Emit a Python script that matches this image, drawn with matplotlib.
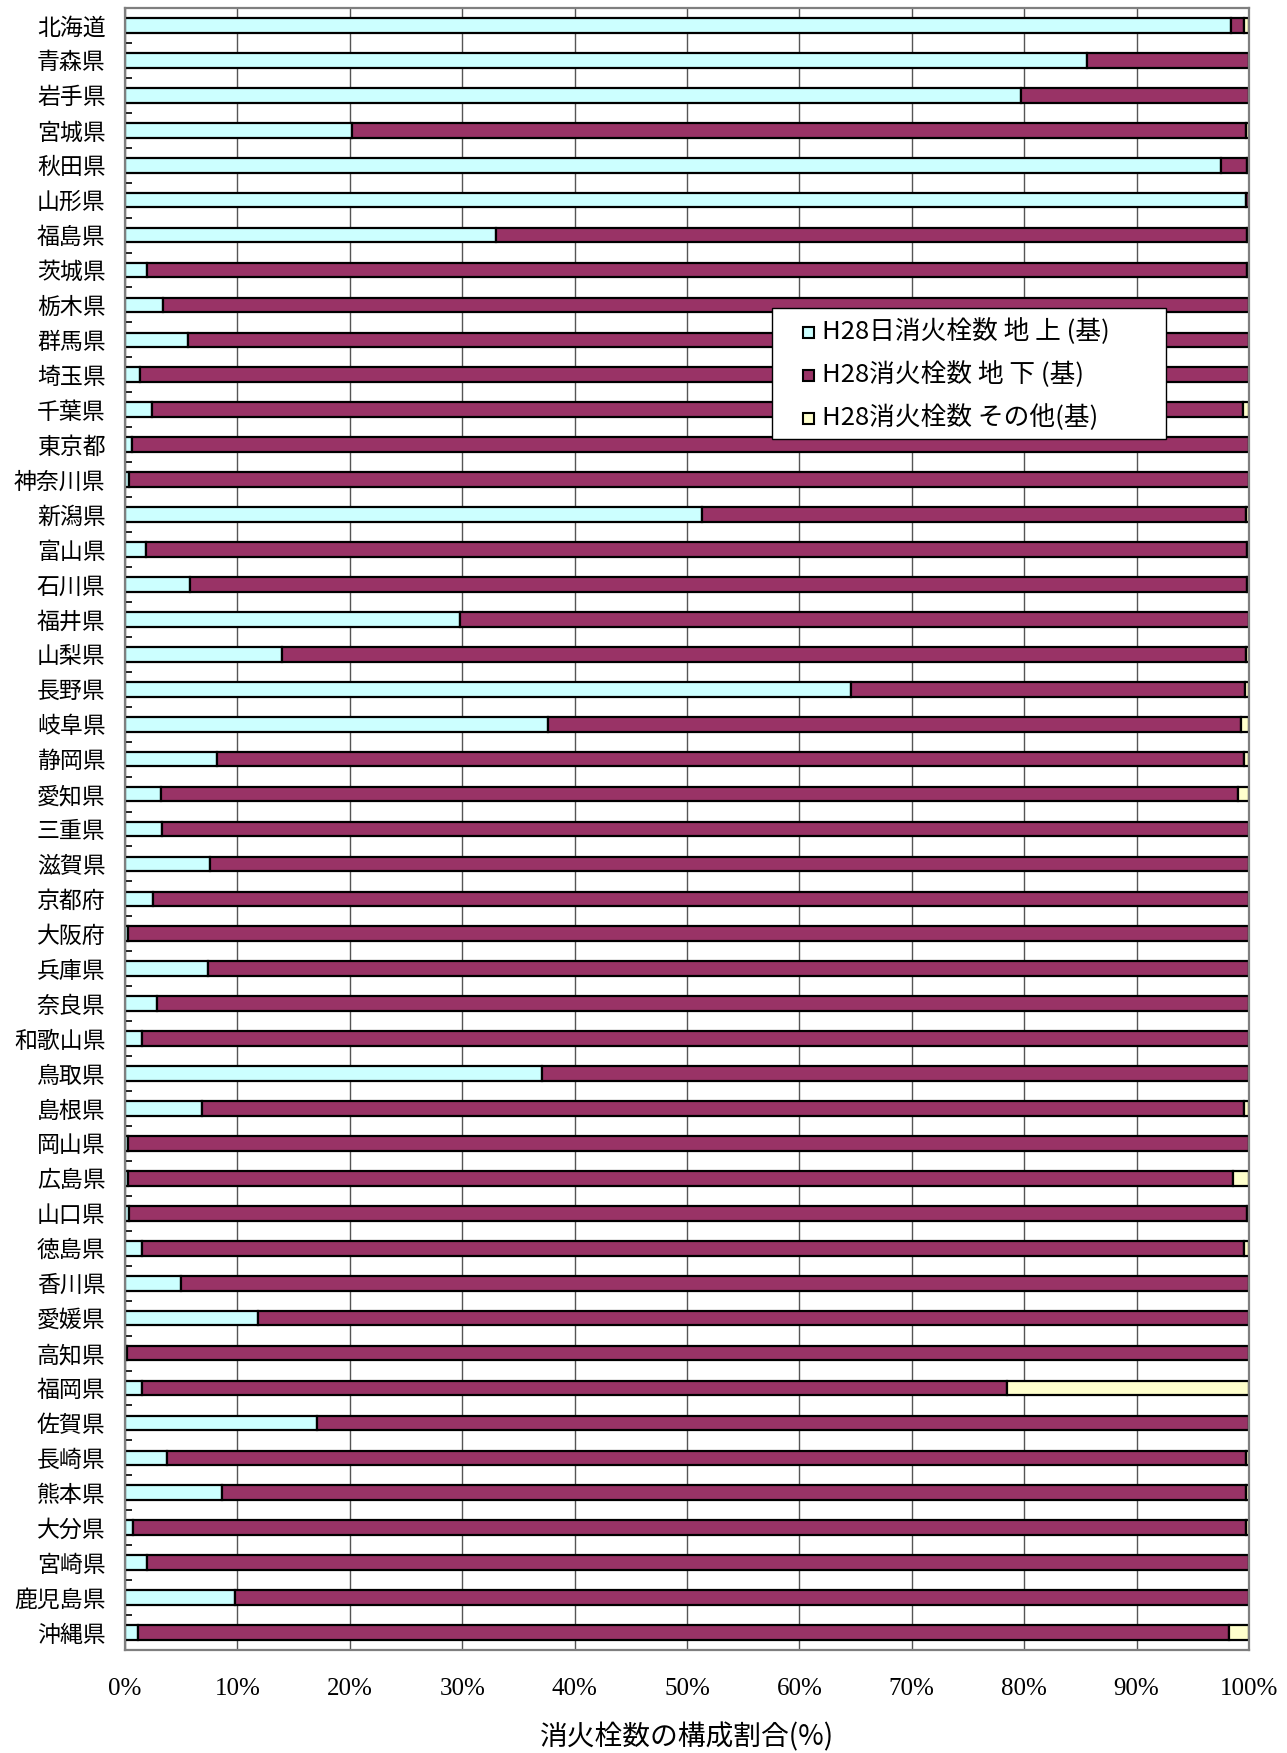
import matplotlib
matplotlib.use("Agg")
import matplotlib.pyplot as plt
from matplotlib.patches import Rectangle
import numpy as np

plt.rcParams['font.family'] = ['Noto Sans CJK JP', 'DejaVu Sans']

prefectures = [
    "北海道", "青森県", "岩手県", "宮城県", "秋田県", "山形県", "福島県",
    "茨城県", "栃木県", "群馬県", "埼玉県", "千葉県", "東京都", "神奈川県",
    "新潟県", "富山県", "石川県", "福井県", "山梨県", "長野県",
    "岐阜県", "静岡県", "愛知県", "三重県",
    "滋賀県", "京都府", "大阪府", "兵庫県", "奈良県", "和歌山県",
    "鳥取県", "島根県", "岡山県", "広島県", "山口県",
    "徳島県", "香川県", "愛媛県", "高知県",
    "福岡県", "佐賀県", "長崎県", "熊本県", "大分県", "宮崎県", "鹿児島県", "沖縄県",
]

# share of hydrants above ground (%)
above_ground = [
    98.4, 85.6, 79.7, 20.2, 97.5, 99.7, 33.0,
    2.0, 3.35, 5.6, 1.36, 2.43, 0.6, 0.36,
    51.3, 1.84, 5.8, 29.8, 14.0, 64.6,
    37.6, 8.16, 3.23, 3.3,
    7.57, 2.46, 0.24, 7.36, 2.82, 1.48,
    37.1, 6.88, 0.3, 0.3, 0.39,
    1.54, 5.0, 11.8, 0.15,
    1.48, 17.1, 3.7, 8.6, 0.74, 1.93, 9.8, 1.19,
]

# share of other hydrant types (%)
other = [
    0.45, 0.0, 0.0, 0.3, 0.2, 0.0, 0.2,
    0.15, 0.0, 0.0, 0.0, 0.56, 0.0, 0.0,
    0.3, 0.2, 0.18, 0.0, 0.27, 0.4,
    0.74, 0.45, 1.0, 0.0,
    0.0, 0.0, 0.0, 0.0, 0.0, 0.0,
    0.0, 0.47, 0.0, 1.4, 0.2,
    0.45, 0.0, 0.0, 0.0,
    21.5, 0.0, 0.3, 0.3, 0.3, 0.0, 0.0, 1.8,
]

# underground share is the remainder of each prefecture's total
below_ground = [100.0 - a - o for a, o in zip(above_ground, other)]

series_labels = [
    "H28日消火栓数 地 上 (基)",
    "H28消火栓数 地 下 (基)",
    "H28消火栓数 その他(基)",
]
series_colors = ["#CCFFFF", "#993366", "#FFFFCC"]
x_ticks = list(range(0, 101, 10))
x_tick_labels = [f"{t}%" for t in x_ticks]

W, H = 1287, 1753
fig = plt.figure(figsize=(W / 100, H / 100), dpi=100)
ax_top, ax_bottom, ax_left, ax_right = 8, 1650, 125, 1249
ax = fig.add_axes([ax_left / W, 1 - ax_bottom / H, (ax_right - ax_left) / W, (ax_bottom - ax_top) / H])

y = np.arange(len(prefectures))
left = np.zeros(len(prefectures))
for vals, col, lab in zip([above_ground, below_ground, other], series_colors, series_labels):
    vals = np.asarray(vals)
    ax.barh(y, vals, left=left, height=0.42, color=col, edgecolor="black",
            linewidth=1.6, label=lab, zorder=3)
    left = left + vals

ax.set_xlim(0, 100)
ax.set_ylim(len(prefectures) - 0.5, -0.5)

# vertical grid at every 10%
ax.set_xticks(x_ticks)
ax.set_xticklabels(x_tick_labels, family="Liberation Serif", fontsize=18)
ax.tick_params(axis="x", length=0, pad=20)
ax.xaxis.grid(True, color="#555555", linewidth=1.0, zorder=0)
ax.yaxis.grid(False)

# category labels at bar centres, short ticks on category boundaries
ax.set_yticks(y)
ax.set_yticklabels(prefectures, fontsize=16.5)
ax.tick_params(axis="y", which="major", length=0, pad=14)
ax.set_yticks(np.arange(-0.5, len(prefectures), 1.0), minor=True)
ax.tick_params(axis="y", which="minor", direction="in", length=5, width=1.2, color="black")

for side in ["left", "right", "top", "bottom"]:
    ax.spines[side].set_color("#7f7f7f")
    ax.spines[side].set_linewidth(1.6)
    ax.spines[side].set_zorder(4)

ax.set_xlabel("消火栓数の構成割合(%)", fontsize=20)
ax.xaxis.set_label_coords(0.5, -(1722 - ax_bottom) / (ax_bottom - ax_top))

# legend box drawn in figure pixel coordinates
def fx(px):
    return px / W

def fy(py):
    return 1 - py / H

box_l, box_t, box_r, box_b = 772, 308, 1166, 439
fig.patches.append(Rectangle((fx(box_l), fy(box_b)), fx(box_r - box_l), (box_b - box_t) / H,
                             transform=fig.transFigure, facecolor="white",
                             edgecolor="black", linewidth=1.0, zorder=10))
entry_y = [332, 375, 418]
marker = 11
for ey, col, lab in zip(entry_y, series_colors, series_labels):
    fig.patches.append(Rectangle((fx(808 - marker / 2), fy(ey + marker / 2)), marker / W, marker / H,
                                 transform=fig.transFigure, facecolor=col,
                                 edgecolor="black", linewidth=1.5, zorder=11))
    fig.text(fx(822), fy(ey), lab, fontsize=18.5, ha="left", va="center", zorder=12)

fig.savefig("out.png", dpi=100)
